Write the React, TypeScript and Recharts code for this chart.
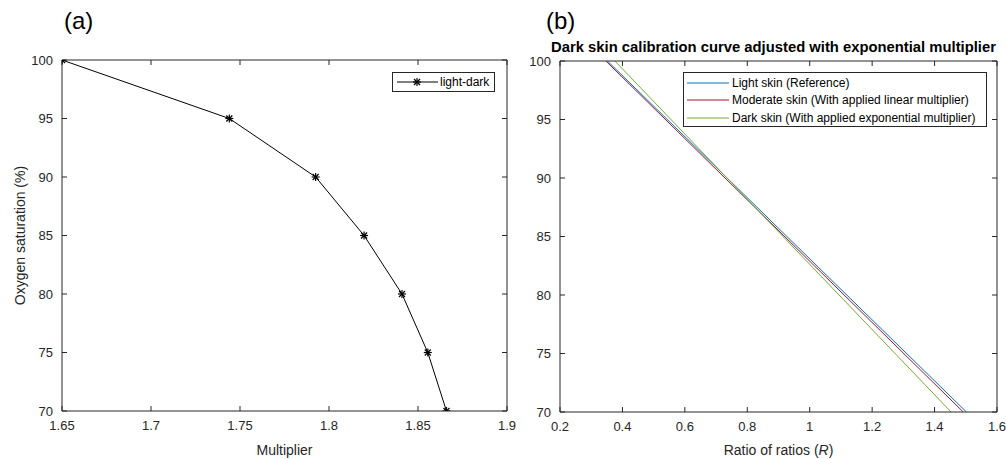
import React from 'react';
import { LineChart, Line, XAxis, YAxis, Legend } from 'recharts';

// panel (a): multiplier needed for each saturation level
const multiplier = [1.65, 1.744, 1.7925, 1.8197, 1.841, 1.8555, 1.866];
const saturationA = [100, 95, 90, 85, 80, 75, 70];

// panel (b): calibration lines, R at the 100 % and 70 % edges
const saturationB = [100, 70];
const lightR = [0.352, 1.502];
const moderateR = [0.347, 1.492];
const darkR = [0.376, 1.453];

const xTicksA = [1.65, 1.7, 1.75, 1.8, 1.85, 1.9];
const xTicksB = [0.2, 0.4, 0.6, 0.8, 1, 1.2, 1.4, 1.6];
const yTicks = [70, 75, 80, 85, 90, 95, 100];

const seriesB = [
  { name: 'Light skin (Reference)', r: lightR, color: '#0072BD' },
  { name: 'Moderate skin (With applied linear multiplier)', r: moderateR, color: '#A2142F' },
  { name: 'Dark skin (With applied exponential multiplier)', r: darkR, color: '#77AC30' },
];

const dataA = multiplier.map((m, i) => ({ m, s: saturationA[i] }));
const toRows = (r: number[]) => r.map((v, i) => ({ r: v, s: saturationB[i] }));

const AXIS = '#262626';
const FONT = '"Liberation Sans", Arial, sans-serif';
const tickStyle = { fill: AXIS, fontSize: 13, fontFamily: FONT };

const Star = (props: any) => {
  const { cx, cy } = props;
  if (cx == null || cy == null) return null;
  const r = 4;
  const d = 3;
  return (
    <g stroke="#000" strokeWidth={1.2}>
      <line x1={cx - r} y1={cy} x2={cx + r} y2={cy} />
      <line x1={cx} y1={cy - r} x2={cx} y2={cy + r} />
      <line x1={cx - d} y1={cy - d} x2={cx + d} y2={cy + d} />
      <line x1={cx - d} y1={cy + d} x2={cx + d} y2={cy - d} />
    </g>
  );
};

const fmt2 = (v: number) => String(+v.toFixed(2));

const xLabel = (text: React.ReactNode) => (props: any) => {
  const vb = props.viewBox;
  return (
    <text x={vb.x + vb.width / 2} y={455} textAnchor="middle" fill={AXIS} fontSize={14} fontFamily={FONT}>
      {text}
    </text>
  );
};

const yLabelA = (props: any) => {
  const vb = props.viewBox;
  const cy = vb.y + vb.height / 2;
  return (
    <text x={25} y={cy} transform={`rotate(-90, 25, ${cy})`} textAnchor="middle" fill={AXIS} fontSize={14} fontFamily={FONT}>
      Oxygen saturation (%)
    </text>
  );
};

const LegendA = () => (
  <div style={{ border: `1px solid ${AXIS}`, background: '#fff', width: 103, height: 20, display: 'flex', alignItems: 'center', fontFamily: FONT, fontSize: 12, color: '#000', boxSizing: 'border-box' }}>
    <svg width={47} height={16}>
      <line x1={4} y1={8} x2={45} y2={8} stroke="#000" strokeWidth={1} />
      <Star cx={24} cy={8} />
    </svg>
    <span>light-dark</span>
  </div>
);

const LegendB = () => (
  <div style={{ border: `1px solid ${AXIS}`, background: '#fff', width: 304, height: 55, boxSizing: 'border-box', padding: '1px 0 0 0', fontFamily: FONT, fontSize: 12, color: '#000' }}>
    {seriesB.map((s) => (
      <div key={s.name} style={{ display: 'flex', alignItems: 'center', height: 17.5 }}>
        <svg width={48} height={10}>
          <line x1={3} y1={5} x2={45} y2={5} stroke={s.color} strokeWidth={1} />
        </svg>
        <span>{s.name}</span>
      </div>
    ))}
  </div>
);

// MATLAB-style box: top and right axes carrying inward ticks, bound to an invisible copy of a series
const frameAxes = (xKey: string, xDomain: number[], xTicks: number[], data: any[]) => [
  <XAxis key="xt" xAxisId="top" orientation="top" type="number" dataKey={xKey} domain={xDomain} ticks={xTicks}
    height={1} tickSize={-5} tickFormatter={() => ''} stroke={AXIS} allowDataOverflow interval={0} />,
  <YAxis key="yr" yAxisId="right" orientation="right" type="number" domain={[70, 100]} ticks={yTicks}
    width={1} tickSize={-5} tickFormatter={() => ''} stroke={AXIS} allowDataOverflow interval={0} />,
  <Line key="frame" xAxisId="top" yAxisId="right" data={data} dataKey="s" stroke="none" dot={false}
    activeDot={false} isAnimationActive={false} legendType="none" />,
];

const legendBox = (left: number, top: number, width: number) => ({
  left, top, width, bottom: 'auto', right: 'auto',
});

export default function App() {
  return (
    <div style={{ position: 'absolute', left: 0, top: 0, width: 1006, height: 459, background: '#fff', fontFamily: FONT }}>
      <div style={{ position: 'absolute', left: 64, top: 7, fontSize: 24, color: '#000' }}>(a)</div>
      <div style={{ position: 'absolute', left: 546, top: 7, fontSize: 24, color: '#000' }}>(b)</div>
      <div style={{ position: 'absolute', left: 550, width: 447, top: 39, textAlign: 'center', fontSize: 14.8, fontWeight: 'bold', color: '#000', whiteSpace: 'nowrap' }}>
        Dark skin calibration curve adjusted with exponential multiplier
      </div>

      <div style={{ position: 'absolute', left: 0, top: 0 }}>
        <LineChart width={520} height={459} data={dataA} margin={{ top: 59, right: 12, bottom: 18, left: 12 }}>
          <XAxis type="number" dataKey="m" domain={[1.65, 1.9]} ticks={xTicksA} tickFormatter={fmt2}
            height={30} tickSize={-5} tickMargin={15} stroke={AXIS} tick={tickStyle} allowDataOverflow
            interval={0} label={{ content: xLabel('Multiplier') }} />
          <YAxis type="number" domain={[70, 100]} ticks={yTicks} width={50} tickSize={-5} tickMargin={14}
            stroke={AXIS} tick={tickStyle} allowDataOverflow interval={0} label={{ content: yLabelA }} />
          {frameAxes('m', [1.65, 1.9], xTicksA, dataA)}
          <Legend layout="horizontal" verticalAlign="middle" align="center" content={<LegendA />}
            wrapperStyle={legendBox(392, 72, 103)} />
          <Line type="linear" dataKey="s" stroke="#000" strokeWidth={1} dot={<Star />} activeDot={false}
            isAnimationActive={false} legendType="none" />
        </LineChart>
      </div>

      <div style={{ position: 'absolute', left: 510, top: 0 }}>
        <LineChart width={496} height={459} margin={{ top: 60, right: 8, bottom: 17, left: 10 }}>
          <XAxis type="number" dataKey="r" domain={[0.2, 1.6]} ticks={xTicksB} tickFormatter={(v: number) => String(+v.toFixed(1))}
            height={30} tickSize={-5} tickMargin={15} stroke={AXIS} tick={tickStyle} allowDataOverflow
            interval={0} label={{ content: xLabel(<>Ratio of ratios (<tspan fontStyle="italic">R</tspan>)</>) }} />
          <YAxis type="number" domain={[70, 100]} ticks={yTicks} width={40} tickSize={-5} tickMargin={14}
            stroke={AXIS} tick={tickStyle} allowDataOverflow interval={0} />
          {frameAxes('r', [0.2, 1.6], xTicksB, toRows(lightR))}
          <Legend layout="horizontal" verticalAlign="middle" align="center" content={<LegendB />}
            wrapperStyle={legendBox(173, 72, 304)} />
          {seriesB.map((s) => (
            <Line key={s.name} data={toRows(s.r)} type="linear" dataKey="s" name={s.name} stroke={s.color}
              strokeWidth={1} dot={false} activeDot={false} isAnimationActive={false} />
          ))}
        </LineChart>
      </div>
    </div>
  );
}
